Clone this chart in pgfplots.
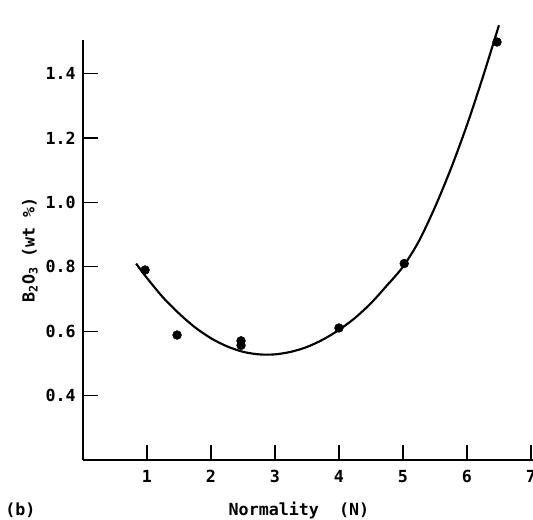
\documentclass[border=0pt]{standalone}
\usepackage{pgfplots}
\pgfplotsset{compat=1.18}
\usepackage{fontspec}
\setmainfont{DejaVu Sans Mono}
\newcommand{\plotfont}{\fontsize{12.5}{15}\selectfont\bfseries}
\begin{document}
\begin{tikzpicture}
\begin{axis}[
    at={(0,0)}, anchor=south west,
    scale only axis,
    width=337.4pt, height=315.2pt,
    xmin=0, xmax=7.03, ymin=0.2, ymax=1.505,
    axis x line*=bottom, axis y line*=left,
    axis line style={line width=1.4pt},
    tick style={line width=1pt, black},
    tick align=inside,
    major tick length=11pt,
    xtick={1,2,3,4,5,6,7},
    ytick={0.4,0.6,0.8,1.0,1.2,1.4},
    yticklabel style={/pgf/number format/.cd, fixed, fixed zerofill, precision=1},
    /pgf/number format/assume math mode=true,
    ticklabel style={font=\plotfont},
    xticklabel shift=4pt,
    yticklabel shift=2pt,
    label style={font=\plotfont},
    xlabel={Normality\ \ (N)},
    xlabel style={at={(axis description cs:0.48,-0.119)}, anchor=center},
    ylabel={B\textsubscript{2}O\textsubscript{3} (wt \%)},
    ylabel style={at={(axis description cs:-0.118,0.5)}, anchor=center},
    clip=false,
]
% fitted curve
\addplot[black, line width=1.6pt, smooth] coordinates {
    (0.83,0.81) (1.0,0.765) (1.25,0.705) (1.5,0.655) (1.75,0.612) (2.0,0.578)
    (2.25,0.553) (2.5,0.536) (2.75,0.528) (3.0,0.528) (3.25,0.536) (3.5,0.551)
    (3.75,0.574) (4.0,0.604) (4.25,0.641) (4.5,0.687) (4.75,0.742) (5.0,0.80)
    (5.25,0.88) (5.5,0.985) (5.75,1.105) (6.0,1.24) (6.25,1.39) (6.5,1.55)
};
% measured points
\addplot[only marks, mark=*, mark size=3.3pt, black] coordinates {
    (0.97,0.79) (1.47,0.588) (2.47,0.57) (2.47,0.556) (4.0,0.61) (5.02,0.81) (6.47,1.498)
};
\node[font=\plotfont, anchor=center] at (axis description cs:-0.139,-0.119) {(b)};
\end{axis}
\pgfresetboundingbox
\path (-62.25pt,-44.25pt) rectangle (337.5pt,345pt);
\end{tikzpicture}
\end{document}
